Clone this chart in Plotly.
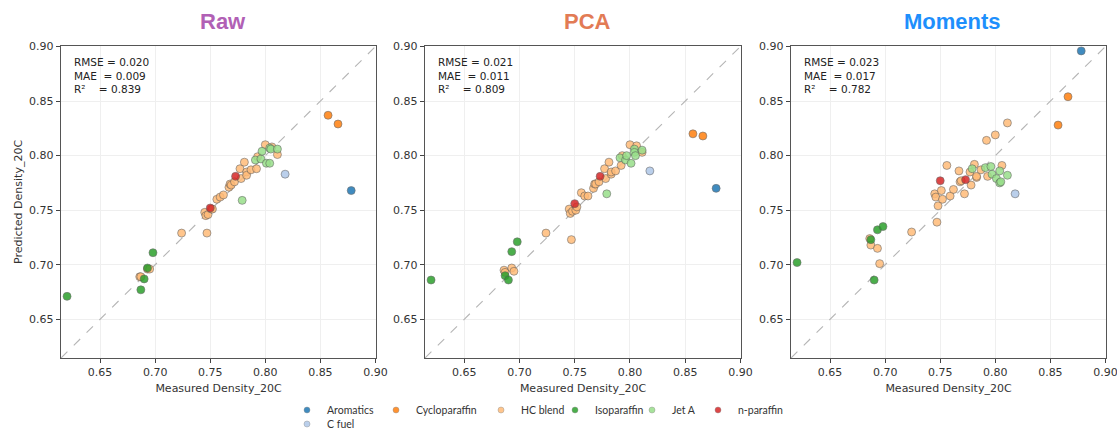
import plotly.graph_objects as go

# ---------------- data ----------------
categories = ["Aromatics", "Cycloparaffin", "HC blend", "Isoparaffin", "Jet A", "n-paraffin", "C fuel"]
colors = ["#1f77b4", "#ff7f0e", "#ffbb78", "#2ca02c", "#98df8a", "#d62728", "#aec7e8"]

measured = {
    "Aromatics": [0.878],
    "Cycloparaffin": [0.857, 0.866],
    "HC blend": [0.686, 0.687, 0.693, 0.695, 0.724, 0.747, 0.745, 0.746, 0.748, 0.751, 0.752,
                 0.756, 0.759, 0.762, 0.767, 0.768, 0.769, 0.772, 0.777, 0.778, 0.781, 0.783,
                 0.783, 0.787, 0.792, 0.793, 0.800, 0.806, 0.811],
    "Isoparaffin": [0.620, 0.687, 0.690, 0.693, 0.698],
    "Jet A": [0.779, 0.791, 0.796, 0.797, 0.801, 0.804, 0.804, 0.805, 0.811],
    "n-paraffin": [0.750, 0.773],
    "C fuel": [0.818],
}

pred_raw = {
    "Aromatics": [0.768],
    "Cycloparaffin": [0.837, 0.829],
    "HC blend": [0.689, 0.689, 0.696, 0.696, 0.729, 0.729, 0.748, 0.745, 0.746, 0.751, 0.751,
                 0.760, 0.762, 0.764, 0.771, 0.774, 0.773, 0.776, 0.788, 0.779, 0.794, 0.785,
                 0.782, 0.787, 0.788, 0.799, 0.810, 0.808, 0.801],
    "Isoparaffin": [0.671, 0.677, 0.687, 0.697, 0.711],
    "Jet A": [0.759, 0.796, 0.797, 0.804, 0.793, 0.807, 0.793, 0.806, 0.806],
    "n-paraffin": [0.752, 0.781],
    "C fuel": [0.783],
}

pred_pca = {
    "Aromatics": [0.770],
    "Cycloparaffin": [0.820, 0.818],
    "HC blend": [0.695, 0.693, 0.697, 0.694, 0.729, 0.723, 0.751, 0.747, 0.749, 0.750, 0.753,
                 0.766, 0.763, 0.763, 0.770, 0.774, 0.774, 0.776, 0.788, 0.779, 0.794, 0.783,
                 0.785, 0.786, 0.791, 0.800, 0.810, 0.809, 0.803],
    "Isoparaffin": [0.686, 0.690, 0.686, 0.712, 0.721],
    "Jet A": [0.765, 0.798, 0.796, 0.800, 0.793, 0.806, 0.803, 0.800, 0.805],
    "n-paraffin": [0.756, 0.781],
    "C fuel": [0.786],
}

pred_mom = {
    "Aromatics": [0.896],
    "Cycloparaffin": [0.828, 0.854],
    "HC blend": [0.724, 0.718, 0.715, 0.701, 0.730, 0.739, 0.765, 0.762, 0.754, 0.768, 0.760,
                 0.791, 0.763, 0.769, 0.786, 0.776, 0.777, 0.765, 0.785, 0.773, 0.792, 0.780,
                 0.781, 0.787, 0.814, 0.781, 0.819, 0.791, 0.830],
    "Isoparaffin": [0.702, 0.723, 0.686, 0.732, 0.735],
    "Jet A": [0.788, 0.789, 0.790, 0.783, 0.779, 0.786, 0.775, 0.776, 0.782],
    "n-paraffin": [0.777, 0.778],
    "C fuel": [0.765],
}

panel_titles = ["Raw", "PCA", "Moments"]
title_colors = ["#b160b5", "#e27b55", "#1e8ffc"]
rmse = ["0.020", "0.021", "0.023"]
mae = ["0.009", "0.011", "0.017"]
r2 = ["0.839", "0.809", "0.782"]
tick_vals = [0.65, 0.70, 0.75, 0.80, 0.85, 0.90]
tick_text = ["0.65", "0.70", "0.75", "0.80", "0.85", "0.90"]
axis_lo, axis_hi = 0.6145, 0.9005

# ---------------- layout geometry ----------------
W, H = 1117, 430
x_domains = [(61 / W, 376 / W), (425 / W, 741 / W), (791 / W, 1106 / W)]
y_domain = ((H - 358) / H, (H - 46) / H)
# legend entry anchor positions (pixels: marker centre x, row centre y)
legend_pos = [(309, 410), (398, 410), (503, 410), (577, 410), (654, 410), (720, 410), (309, 424)]

fig = go.Figure()
preds = [pred_raw, pred_pca, pred_mom]

for p in range(3):
    xa = "x" if p == 0 else f"x{p+1}"
    ya = "y" if p == 0 else f"y{p+1}"
    fig.add_trace(go.Scatter(
        x=[axis_lo, axis_hi], y=[axis_lo, axis_hi], mode="lines",
        line=dict(color="#b5b5b5", width=1.1, dash="dash"),
        showlegend=False, hoverinfo="skip", xaxis=xa, yaxis=ya))
    for cat, col in zip(categories, colors):
        fig.add_trace(go.Scatter(
            x=measured[cat], y=preds[p][cat], mode="markers", name=cat,
            marker=dict(color=col, size=8, opacity=0.85,
                        line=dict(color="#555555", width=0.6)),
            showlegend=False, xaxis=xa, yaxis=ya))

layout = dict(
    width=W, height=H, margin=dict(l=0, r=0, t=0, b=0, autoexpand=False),
    paper_bgcolor="white", plot_bgcolor="white",
    showlegend=True,
)

# legend-only entries, one small legend per category to place them like the reference
for i, (cat, col) in enumerate(zip(categories, colors)):
    lname = "legend" if i == 0 else f"legend{i+1}"
    fig.add_trace(go.Scatter(
        x=[None], y=[None], mode="markers", name=cat,
        marker=dict(color=col, size=6, opacity=0.85, line=dict(color="#777777", width=0.4)),
        showlegend=True, legend=lname, hoverinfo="skip"))
    mx, my = legend_pos[i]
    layout[lname] = dict(
        orientation="h", xref="container", yref="container",
        x=(mx - 22) / W, xanchor="left", y=(H - my) / H, yanchor="middle",
        font=dict(family="Lato", size=10.5, color="#333333"),
        bgcolor="rgba(0,0,0,0)", itemclick=False)

axis_common = dict(
    range=[axis_lo, axis_hi], tickvals=tick_vals, ticktext=tick_text,
    showgrid=True, gridcolor="#efefef", gridwidth=1,
    zeroline=False, showline=True, linecolor="#555555", linewidth=1.4, mirror=True,
    ticks="outside", ticklen=4, tickwidth=1, tickcolor="#444444",
    tickfont=dict(family="DejaVu Sans", size=11, color="#333333"),
    automargin=False, ticklabeloverflow="allow",
)

annotations = []
for p in range(3):
    sfx = "" if p == 0 else str(p + 1)
    layout[f"xaxis{sfx}"] = dict(
        axis_common, domain=list(x_domains[p]), anchor=f"y{sfx}",
        title=dict(text="Measured Density_20C", standoff=6,
                   font=dict(family="DejaVu Sans", size=11, color="#333333")))
    ydict = dict(axis_common, domain=list(y_domain), anchor=f"x{sfx}")
    if p == 0:
        ydict["title"] = dict(text="Predicted Density_20C", standoff=4,
                              font=dict(family="DejaVu Sans", size=11, color="#333333"))
    layout[f"yaxis{sfx}"] = ydict

    cx = (x_domains[p][0] + x_domains[p][1]) / 2 + 4 / W
    annotations.append(dict(
        text=f"<b>{panel_titles[p]}</b>", x=cx, y=(H - 22) / H, xref="paper", yref="paper",
        xanchor="center", yanchor="middle", showarrow=False,
        font=dict(family="Liberation Sans", size=22, color=title_colors[p])))
    annotations.append(dict(
        text=f"RMSE = {rmse[p]}<br>MAE  = {mae[p]}<br>R²    = {r2[p]}",
        x=0.035, y=0.975, xref=f"x{sfx} domain", yref=f"y{sfx} domain",
        xanchor="left", yanchor="top", align="left", showarrow=False,
        font=dict(family="DejaVu Sans", size=10.5, color="#222222")))

layout["annotations"] = annotations
fig.update_layout(**layout)

fig.write_html("out.html")
